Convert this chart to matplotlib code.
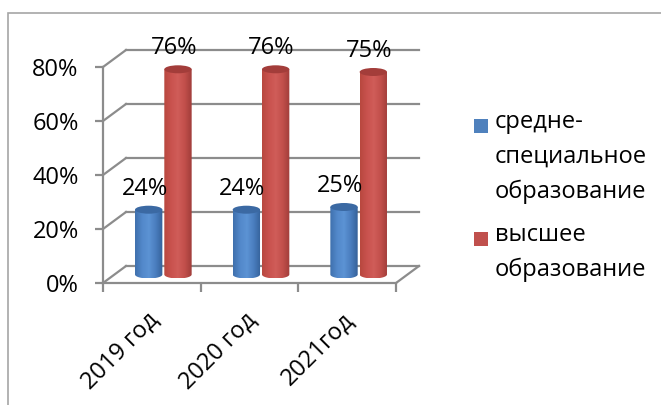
import numpy as np
import matplotlib.pyplot as plt
from matplotlib.colors import LinearSegmentedColormap
from matplotlib.patches import Ellipse, PathPatch, Rectangle
from matplotlib.path import Path
from matplotlib.transforms import ScaledTranslation

plt.rcParams["font.family"] = ["Open Sans", "DejaVu Sans"]

# data
categories = ["2019 год", "2020 год", "2021год"]
series_names = ["средне-\nспециальное\nобразование", "высшее\nобразование"]
secondary = [24, 24, 25]
higher = [76, 76, 75]
yticks = [0, 20, 40, 60, 80]

W, H, DPI = 661, 405, 100
GRID = "#8c8c8c"
FS = 17

fig = plt.figure(figsize=(W / DPI, H / DPI), dpi=DPI)
ax = fig.add_axes([103 / W, 122 / H, 293 / W, 216 / H])
ax.set_xlim(0, 3)
ax.set_ylim(0, 80)

# pixel -> data unit helpers (for the fake 3D depth)
px_x = 3 / 293
px_y = 80 / 216
DX, DY = 23 * px_x, 17 * px_y      # back wall offset
MX, MY = 11.5 * px_x, 8.5 * px_y   # bars sit half way in depth
EH = 4 * px_y                      # half height of cylinder ellipses

# back wall gridlines + side wall
for v in yticks:
    ax.plot([DX, 3 + DX], [v + DY, v + DY], color=GRID, lw=1.6, clip_on=False, zorder=1)
    ax.plot([0, DX], [v, v + DY], color=GRID, lw=1.6, clip_on=False, zorder=1)
# floor right edge
ax.plot([3, 3 + DX], [0, DY], color=GRID, lw=1.6, clip_on=False, zorder=1)

# axes styling
for s in ["top", "right"]:
    ax.spines[s].set_visible(False)
for s in ["left", "bottom"]:
    ax.spines[s].set_color(GRID)
    ax.spines[s].set_linewidth(1.6)
ax.set_yticks(yticks)
ax.set_yticklabels([f"{v}%" for v in yticks], fontsize=FS)
ax.tick_params(axis="y", length=6, width=1.6, color=GRID, pad=11.5)
ax.set_xticks([0, 1, 2, 3])
ax.set_xticklabels([])
ax.tick_params(axis="x", which="major", length=6.5, width=1.6, color=GRID)
ax.set_xticks([0.5, 1.5, 2.5], minor=True)
ax.set_xticklabels(categories, minor=True, rotation=45, ha="right",
                   rotation_mode="anchor", fontsize=FS)
ax.tick_params(axis="x", which="minor", length=0, pad=18)
for lab in ax.get_xticklabels(minor=True):
    lab.set_transform(lab.get_transform() + ScaledTranslation(-5 / DPI, 0, fig.dpi_scale_trans))
ax.set_facecolor("none")

blue_cm = LinearSegmentedColormap.from_list(
    "b", ["#3f70ad", "#5288ca", "#5c93d4", "#4a7dbe", "#35619a"])
red_cm = LinearSegmentedColormap.from_list(
    "r", ["#b8483f", "#c9524e", "#d05d59", "#c24f4b", "#a03d3a"])
grad = np.linspace(0, 1, 64).reshape(1, -1)

series = [(secondary, 0.35, blue_cm, "#3b69a3", "#4f81bd"),
          (higher, 0.65, red_cm, "#a33d3a", "#c0504d")]
width = 0.28

for values, off, cmap, topc, legc in series:
    for j, v in enumerate(values):
        xc = j + off + MX
        left, right = xc - width / 2, xc + width / 2
        base, top = MY, v + MY
        t = np.linspace(np.pi, 2 * np.pi, 30)
        arc = np.column_stack([xc + width / 2 * np.cos(t), base + EH * np.sin(t)])
        verts = np.vstack([[left, top], arc, [right, top], [left, top]])
        codes = [Path.MOVETO] + [Path.LINETO] * (len(verts) - 2) + [Path.CLOSEPOLY]
        body = PathPatch(Path(verts, codes), fc="none", ec="none", clip_on=False)
        ax.add_patch(body)
        im = ax.imshow(grad, cmap=cmap, aspect="auto", extent=[left, right, base - EH, top],
                       zorder=3, interpolation="bilinear")
        im.set_clip_path(body)
        ax.add_patch(Ellipse((xc, top), width, 2 * EH, fc=topc, ec="none", zorder=4,
                             clip_on=False))
        ax.annotate(f"{v}%", (xc, top), xytext=(-3, 15), textcoords="offset points",
                    ha="center", va="center", fontsize=FS, zorder=5)

ax.set_xlim(0, 3)
ax.set_ylim(0, 80)

# legend drawn by hand to keep the square on the first line
leg_y = [126, 239]
for (values, off, cmap, topc, legc), name, y in zip(series, series_names, leg_y):
    fig.patches.append(Rectangle((474 / W, 1 - (y + 7) / H), 14 / W, 14 / H,
                                 transform=fig.transFigure, fc=legc, ec="none"))
    fig.text(495 / W, 1 - (y - 16) / H, name, ha="left", va="top", fontsize=FS,
             linespacing=1.6)

# outer frame
fig.patches.append(Rectangle((8 / W, -0.1), 1.2, 1 - 13 / H + 0.1, transform=fig.transFigure,
                             fc="none", ec="#a6a6a6", lw=1.2))

fig.savefig("out.png", dpi=DPI)
